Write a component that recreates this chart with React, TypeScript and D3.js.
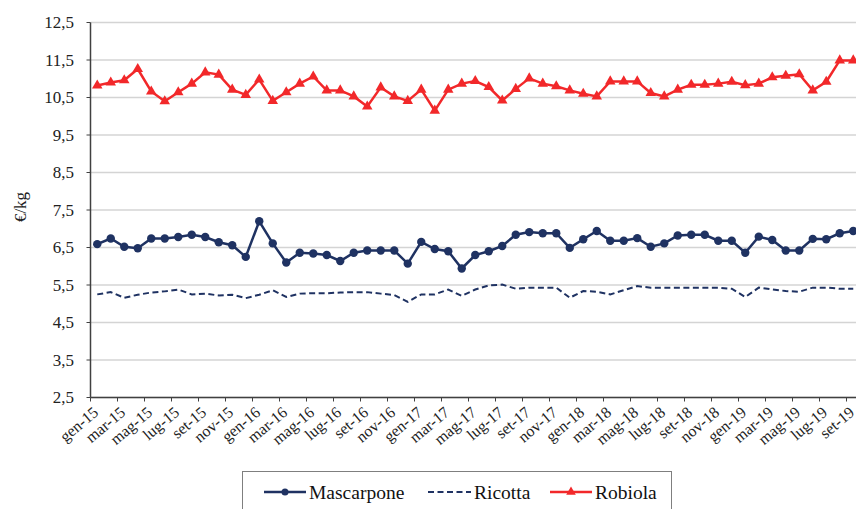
import React from "react";
import * as d3 from "d3";

const monthNames = ["gen", "feb", "mar", "apr", "mag", "giu", "lug", "ago", "set", "ott", "nov", "dic"];
const years = ["15", "16", "17", "18", "19"];
const categories: string[] = [];
years.forEach((y) => monthNames.forEach((m) => categories.push(`${m}-${y}`)));
const months = categories.slice(0, 57); // gen-15 .. set-19

const mascarpone = [
  6.59, 6.74, 6.52, 6.48, 6.74, 6.74, 6.78, 6.84, 6.78, 6.64, 6.56, 6.25,
  7.2, 6.61, 6.1, 6.36, 6.34, 6.3, 6.14, 6.36, 6.42, 6.42, 6.42, 6.07,
  6.65, 6.46, 6.4, 5.94, 6.3, 6.4, 6.54, 6.84, 6.91, 6.88, 6.88, 6.49,
  6.72, 6.94, 6.68, 6.68, 6.75, 6.52, 6.61, 6.82, 6.84, 6.84, 6.68, 6.68,
  6.36, 6.79, 6.7, 6.42, 6.42, 6.73, 6.72, 6.88, 6.94,
];
const ricotta = [
  5.25, 5.31, 5.16, 5.24, 5.3, 5.33, 5.38, 5.25, 5.27, 5.22, 5.24, 5.15,
  5.24, 5.36, 5.18, 5.27, 5.28, 5.28, 5.3, 5.31, 5.31, 5.27, 5.23, 5.05,
  5.25, 5.25, 5.38, 5.21, 5.38, 5.49, 5.51, 5.4, 5.43, 5.43, 5.43, 5.16,
  5.34, 5.32, 5.25, 5.36, 5.47, 5.43, 5.43, 5.43, 5.43, 5.43, 5.43, 5.4,
  5.18, 5.43, 5.38, 5.34, 5.32, 5.43, 5.43, 5.4, 5.4,
];
const robiola = [
  10.82, 10.9, 10.96, 11.26, 10.66, 10.4, 10.64, 10.87, 11.17, 11.11, 10.71, 10.57,
  10.98, 10.41, 10.64, 10.87, 11.06, 10.69, 10.69, 10.53, 10.26, 10.77, 10.53, 10.41,
  10.71, 10.15, 10.71, 10.87, 10.94, 10.78, 10.42, 10.73, 11.01, 10.87, 10.8, 10.69,
  10.6, 10.53, 10.93, 10.93, 10.93, 10.62, 10.53, 10.71, 10.84, 10.84, 10.87, 10.92,
  10.83, 10.87, 11.04, 11.08, 11.12, 10.69, 10.92, 11.49, 11.49,
];
const yTicks = [2.5, 3.5, 4.5, 5.5, 6.5, 7.5, 8.5, 9.5, 10.5, 11.5, 12.5];

const NAVY = "#1f3262";
const RED = "#f2282a";
const FONT = "Liberation Serif";

export default function App() {
  const left = 90.5;
  const top = 22.5;
  const bottom = 397.5;
  const x = d3.scaleBand<string>().domain(months).range([left, left + 13.5 * months.length]).padding(0);
  const y = d3.scaleLinear().domain([2.5, 12.5]).range([bottom, top]);
  const cx = (i: number) => (x(months[i]) as number) + x.bandwidth() / 2;

  const line = d3
    .line<number>()
    .x((_, i) => cx(i))
    .y((d) => y(d));

  const tri = d3.symbol().type(d3.symbolTriangle).size(48)() as string;
  const triLegend = d3.symbol().type(d3.symbolTriangle).size(40)() as string;

  const tickIdx = months.map((_, i) => i).filter((i) => i % 2 === 0);

  return (
    <svg width={856} height={509} style={{ position: "absolute", left: 0, top: 0 }} className="chart">
      <style>{`.chart text { font-family: "Liberation Serif", "Times New Roman", serif; }`}</style>
      {/* gridlines */}
      {yTicks.map((t) => (
        <line key={t} x1={left} x2={860} y1={y(t)} y2={y(t)} stroke="#d4d4d4" strokeWidth={1.5} />
      ))}
      {/* y axis */}
      <line x1={left} x2={left} y1={top} y2={bottom} stroke="#404040" strokeWidth={1.5} />
      {yTicks.map((t) => (
        <line key={"yt" + t} x1={left - 4} x2={left} y1={y(t)} y2={y(t)} stroke="#404040" strokeWidth={1} />
      ))}
      {yTicks.map((t) => (
        <text key={"yl" + t} x={74} y={y(t)} dy="0.35em" textAnchor="end" fontSize={17} fill="#222" fontFamily={FONT}>
          {String(t).replace(".", ",")}
        </text>
      ))}
      <text transform={`translate(26,207) rotate(-90)`} textAnchor="middle" fontSize={17} fill="#222" fontFamily={FONT}>
        €/kg
      </text>
      {/* x axis */}
      <line x1={left} x2={860} y1={bottom} y2={bottom} stroke="#404040" strokeWidth={1.5} />
      {tickIdx.map((i) => (
        <line
          key={"xt" + i}
          x1={x(months[i]) as number}
          x2={x(months[i]) as number}
          y1={bottom}
          y2={bottom + 4}
          stroke="#404040"
          strokeWidth={1}
        />
      ))}
      {tickIdx.map((i) => (
        <text
          key={"xl" + i}
          transform={`translate(${cx(i) - 5},${bottom + 8}) rotate(-40)`}
          textAnchor="end"
          dy="0.7em"
          fontSize={16}
          fill="#222"
          fontFamily={FONT}
        >
          {months[i]}
        </text>
      ))}

      {/* Ricotta */}
      <path d={line(ricotta) as string} fill="none" stroke={NAVY} strokeWidth={2} strokeDasharray="6,3.5" />
      {/* Mascarpone */}
      <path d={line(mascarpone) as string} fill="none" stroke={NAVY} strokeWidth={2.5} />
      {mascarpone.map((v, i) => (
        <circle key={"m" + i} cx={cx(i)} cy={y(v)} r={4.2} fill={NAVY} />
      ))}
      {/* Robiola */}
      <path d={line(robiola) as string} fill="none" stroke={RED} strokeWidth={2.5} />
      {robiola.map((v, i) => (
        <path key={"r" + i} d={tri} transform={`translate(${cx(i)},${y(v)})`} fill={RED} />
      ))}

      {/* legend */}
      <rect x={242.5} y={471.5} width={429} height={50} fill="#fff" stroke="#7f7f7f" strokeWidth={1} />
      <line x1={264} x2={306} y1={492} y2={492} stroke={NAVY} strokeWidth={2.5} />
      <circle cx={285} cy={492} r={3.5} fill={NAVY} />
      <text x={309} y={492} dy="0.35em" fontSize={19.5} fill="#111" fontFamily={FONT}>Mascarpone</text>
      <line x1={428} x2={471} y1={492} y2={492} stroke={NAVY} strokeWidth={2} strokeDasharray="6,3.5" />
      <text x={474} y={492} dy="0.35em" fontSize={19.5} fill="#111" fontFamily={FONT}>Ricotta</text>
      <line x1={550} x2={592} y1={492} y2={492} stroke={RED} strokeWidth={2.5} />
      <path d={triLegend} transform="translate(571,492)" fill={RED} />
      <text x={595} y={492} dy="0.35em" fontSize={19.5} fill="#111" fontFamily={FONT}>Robiola</text>
    </svg>
  );
}
